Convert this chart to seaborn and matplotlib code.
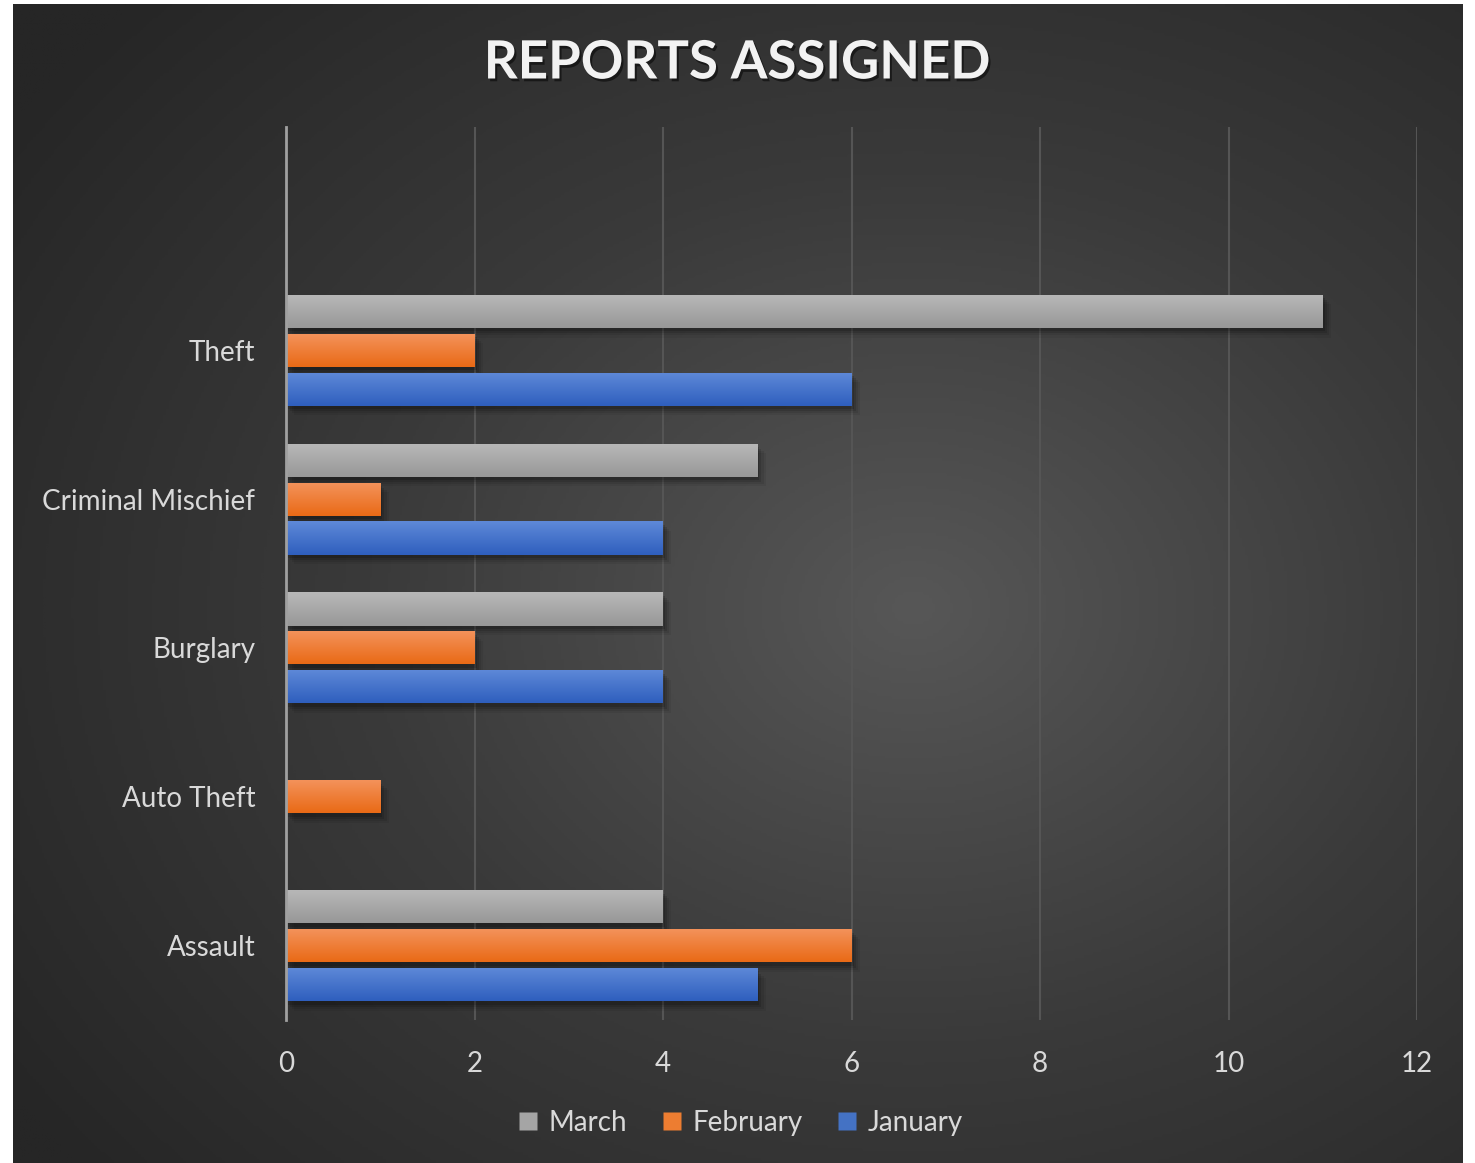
import numpy as np
import pandas as pd
import matplotlib
matplotlib.use("Agg")
import matplotlib.pyplot as plt
import matplotlib.patheffects as pe
from matplotlib.colors import LinearSegmentedColormap
from matplotlib.lines import Line2D
import seaborn as sns

categories = ["Theft", "Criminal Mischief", "Burglary", "Auto Theft", "Assault"]
months = ["March", "February", "January"]
march = [11, 5, 4, 0, 4]
february = [2, 1, 2, 1, 6]
january = [6, 4, 4, 0, 5]
x_ticks = [0, 2, 4, 6, 8, 10, 12]

df = pd.DataFrame({
    "category": categories * 3,
    "month": ["March"] * 5 + ["February"] * 5 + ["January"] * 5,
    "value": march + february + january,
})

colors = {"March": "#A5A5A5", "February": "#ED7D31", "January": "#4472C4"}
grad = {
    "March": ("#B8B8B8", "#989898"),
    "February": ("#F4935C", "#E96A16"),
    "January": ("#5E89D8", "#2F5FBE"),
}

sns.set_theme(style="dark")
plt.rcParams["font.family"] = ["Lato", "DejaVu Sans"]

W, H = 1475, 1163
fig = plt.figure(figsize=(W / 100, H / 100), dpi=100, facecolor="white")

# background panel with radial gradient
bg = fig.add_axes([13 / W, 0, (1463 - 13) / W, (1163 - 4) / H], zorder=-10)
ny, nx = 400, 500
yy, xx = np.mgrid[0:ny, 0:nx]
cx, cy = 0.62 * nx, 0.52 * ny
r = np.sqrt(((xx - cx) / nx) ** 2 + ((yy - cy) / ny) ** 2) / 0.75
r = np.clip(r, 0, 1)
cmap_bg = LinearSegmentedColormap.from_list("bg", ["#575757", "#3a3a3a", "#262626"])
bg.imshow(r, cmap=cmap_bg, aspect="auto", extent=(0, 1, 0, 1), vmin=0, vmax=1)
bg.set_axis_off()

ax = fig.add_axes([286 / W, 1 - 1020 / H, (1417 - 286) / W, (1020 - 127) / H])
ax.patch.set_alpha(0)

sns.barplot(data=df, x="value", y="category", hue="month", order=categories,
            hue_order=months, palette=colors, orient="h", width=0.785, gap=0.15,
            ax=ax, legend=False, saturation=1, errorbar=None)

# gradient fills and soft shadows
patch_months = []
for m in months:
    patch_months += [m] * len(categories)
shadow = [pe.SimplePatchShadow(offset=(o, -o - 1), shadow_rgbFace="black", alpha=a)
          for o, a in [(6, 0.06), (4.5, 0.08), (3, 0.12), (1.5, 0.15)]]
for p, m in zip(list(ax.patches), patch_months):
    x, y = p.get_x(), p.get_y()
    w, h = p.get_width(), p.get_height()
    if w <= 0:
        p.set_visible(False)
        continue
    p.set_edgecolor("none")
    p.set_path_effects(shadow + [pe.Normal()])
    cm = LinearSegmentedColormap.from_list("g", list(grad[m]))
    img = ax.imshow(np.linspace(0, 1, 50).reshape(-1, 1), cmap=cm, aspect="auto",
                    extent=(x, x + w, y + h, y), origin="upper", zorder=3)
    img.set_clip_path(p)

ax.set_xlim(0, 12)
ax.set_ylim(4.5, -1.5)
ax.set_xticks(x_ticks)
ax.set_xticklabels([str(t) for t in x_ticks])
ax.set_xlabel("")
ax.set_ylabel("")
ax.grid(axis="x", color="#555555", linewidth=1.5)
ax.grid(axis="y", visible=False)
ax.set_axisbelow(True)
for s in ["top", "right", "bottom"]:
    ax.spines[s].set_visible(False)
ax.spines["left"].set_color("#a0a0a0")
ax.spines["left"].set_linewidth(2)
ax.spines["left"].set_zorder(5)
ax.tick_params(axis="both", length=0, colors="#D9D9D9", labelsize=20)
ax.tick_params(axis="y", pad=22)
ax.tick_params(axis="x", pad=22)

fig.text(737 / W, 1 - 63 / H, "REPORTS ASSIGNED", ha="center", va="center",
         fontsize=38, fontweight="bold", color="#F2F2F2",
         path_effects=[pe.withSimplePatchShadow(offset=(1.5, -2), shadow_rgbFace="black", alpha=0.5)])

handles = [Line2D([0], [0], marker="s", linestyle="none", markersize=13,
                  markerfacecolor=colors[m], markeredgecolor="none", label=m) for m in months]
leg = fig.legend(handles=handles, loc="center", bbox_to_anchor=(740 / W, 1 - 1123 / H),
                 ncol=3, frameon=False, fontsize=20, handlelength=0.8,
                 handletextpad=0.35, columnspacing=1.2)
for t in leg.get_texts():
    t.set_color("#D9D9D9")

fig.savefig("out.png", dpi=100, facecolor="white")
